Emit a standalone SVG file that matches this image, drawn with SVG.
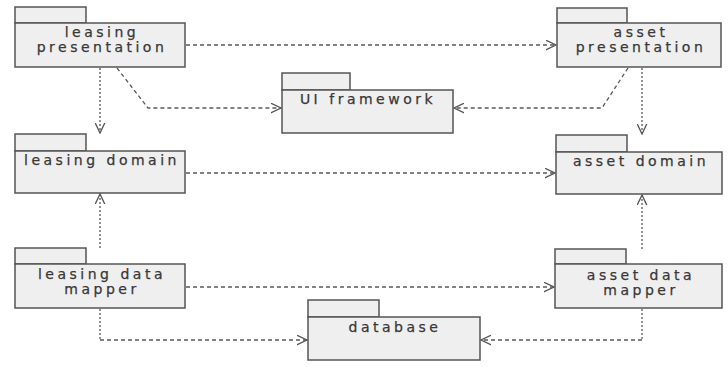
<svg xmlns="http://www.w3.org/2000/svg" width="728" height="367" viewBox="0 0 728 367">
<defs>
<marker id="arr" viewBox="0 0 10 10" refX="9.5" refY="5" markerWidth="11" markerHeight="11" markerUnits="userSpaceOnUse" orient="auto">
<path d="M0,0.5 L9.5,5 L0,9.5" fill="none" stroke="#555" stroke-width="1.2"/>
</marker>
<style>
.pk{fill:#efefef;stroke:#555;stroke-width:1.5}
.t{font-family:"DejaVu Sans",Verdana,sans-serif;font-size:14px;letter-spacing:3.5px;fill:#383838;stroke:#383838;stroke-width:0.25;text-anchor:middle}
.h{fill:none;stroke:#5a5a5a;stroke-width:1.3;stroke-dasharray:4,3}
.v{fill:none;stroke:#5a5a5a;stroke-width:1.3;stroke-dasharray:2,2}
</style>
</defs>
<rect width="728" height="367" fill="#fff"/>
<g id="leasing-presentation">
<rect class="pk" x="15" y="7" width="71" height="16"/>
<rect class="pk" x="15" y="23" width="170" height="44"/>
<text class="t" x="102" y="37">leasing</text>
<text class="t" x="102" y="52">presentation</text>
</g>
<g id="asset-presentation">
<rect class="pk" x="557" y="8" width="70" height="15"/>
<rect class="pk" x="557" y="23" width="164" height="44"/>
<text class="t" x="641" y="37">asset</text>
<text class="t" x="641" y="52">presentation</text>
</g>
<g id="ui-framework">
<rect class="pk" x="282" y="73" width="68" height="17"/>
<rect class="pk" x="282" y="90" width="171" height="43"/>
<text class="t" x="368" y="104">UI framework</text>
</g>
<g id="leasing-domain">
<rect class="pk" x="15" y="134" width="71" height="17"/>
<rect class="pk" x="15" y="151" width="170" height="42"/>
<text class="t" x="102" y="165">leasing domain</text>
</g>
<g id="asset-domain">
<rect class="pk" x="556" y="135" width="71" height="17"/>
<rect class="pk" x="556" y="152" width="166" height="42"/>
<text class="t" x="641" y="166">asset domain</text>
</g>
<g id="leasing-data-mapper">
<rect class="pk" x="15" y="248" width="71" height="16"/>
<rect class="pk" x="15" y="264" width="170" height="44"/>
<text class="t" x="102" y="279">leasing data</text>
<text class="t" x="102" y="294">mapper</text>
</g>
<g id="asset-data-mapper">
<rect class="pk" x="555" y="249" width="71" height="15"/>
<rect class="pk" x="555" y="264" width="167" height="44"/>
<text class="t" x="641" y="280">asset data</text>
<text class="t" x="641" y="295">mapper</text>
</g>
<g id="database">
<rect class="pk" x="308" y="300" width="71" height="17"/>
<rect class="pk" x="308" y="317" width="172" height="43"/>
<text class="t" x="395" y="332">database</text>
</g>
<g id="connectors">
<path class="h" d="M186,45 L556,45" marker-end="url(#arr)"/>
<path class="h" d="M117,68 L148,108 L281,108" marker-end="url(#arr)"/>
<path class="h" d="M628,68 L602,108 L454,108" marker-end="url(#arr)"/>
<path class="v" d="M100,68 L100,133" marker-end="url(#arr)"/>
<path class="v" d="M642,68 L642,134" marker-end="url(#arr)"/>
<path class="h" d="M186,173 L555,173" marker-end="url(#arr)"/>
<path class="v" d="M100,248 L100,194" marker-end="url(#arr)"/>
<path class="v" d="M642,249 L642,195" marker-end="url(#arr)"/>
<path class="h" d="M186,287 L554,287" marker-end="url(#arr)"/>
<path class="v" d="M100,309 L100,340"/>
<path class="h" d="M100,340 L307,340" marker-end="url(#arr)"/>
<path class="v" d="M642,309 L642,340"/>
<path class="h" d="M642,340 L481,340" marker-end="url(#arr)"/>
</g>
</svg>
